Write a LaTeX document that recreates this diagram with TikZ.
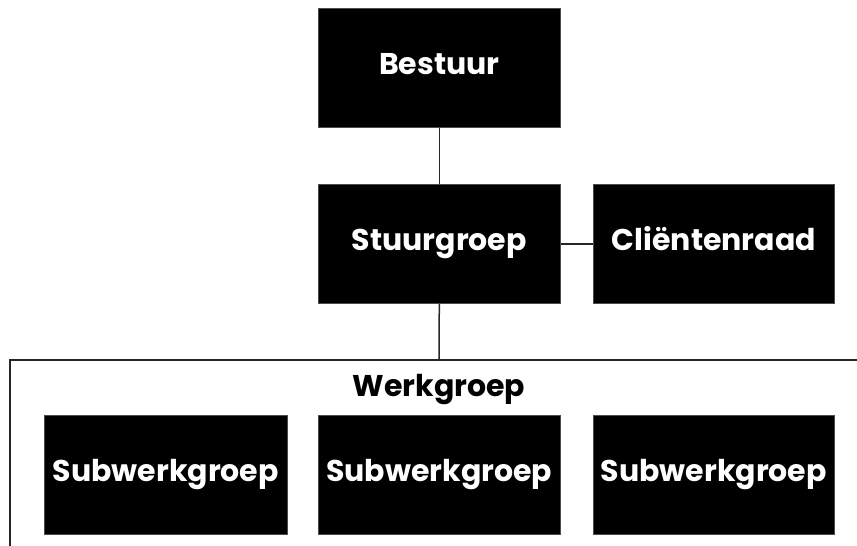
\documentclass[tikz,border=0pt]{standalone}
\usepackage{fontspec}
\setmainfont{Poppins}[BoldFont={* Bold}]
\begin{document}
\begin{tikzpicture}[x=1pt,y=-1pt,
  orgbox/.style={fill=black,draw=black!70,line width=0.6pt,minimum width=242pt,minimum height=119pt,inner sep=0pt,text height=13pt,text depth=0pt,text=white,font=\fontsize{30}{34}\selectfont\bfseries,anchor=north west},
  conn/.style={draw=black!85,line width=1.5pt}]
\useasboundingbox (0,0) rectangle (857,546);
\node[orgbox] (bestuur) at (318,8) {Bestuur};
\node[orgbox] (stuur) at (318,184) {Stuurgroep};
\node[orgbox,minimum width=241pt] (client) at (593,184) {Cliëntenraad};
\coordinate (wtop) at (439,360);
\coordinate (wleft) at (10,360);
\coordinate (wright) at (857,360);
\coordinate (wbot) at (10,546);
\draw[conn] (bestuur.south) -- (stuur.north);
\draw[conn] (stuur.east) -- (client.west);
\draw[conn] (stuur.south) -- (wtop);
\draw[conn] (wbot) -- (wleft) -- (wright);
\node[font=\fontsize{30}{34}\selectfont\bfseries,text height=13pt,text depth=0pt,inner sep=0pt] (werk) at (439,390) {Werkgroep};
\node[orgbox,minimum width=243pt] (sub1) at (44,415) {Subwerkgroep};
\node[orgbox] (sub2) at (318,415) {Subwerkgroep};
\node[orgbox,minimum width=241pt] (sub3) at (593,415) {Subwerkgroep};
\end{tikzpicture}
\end{document}
